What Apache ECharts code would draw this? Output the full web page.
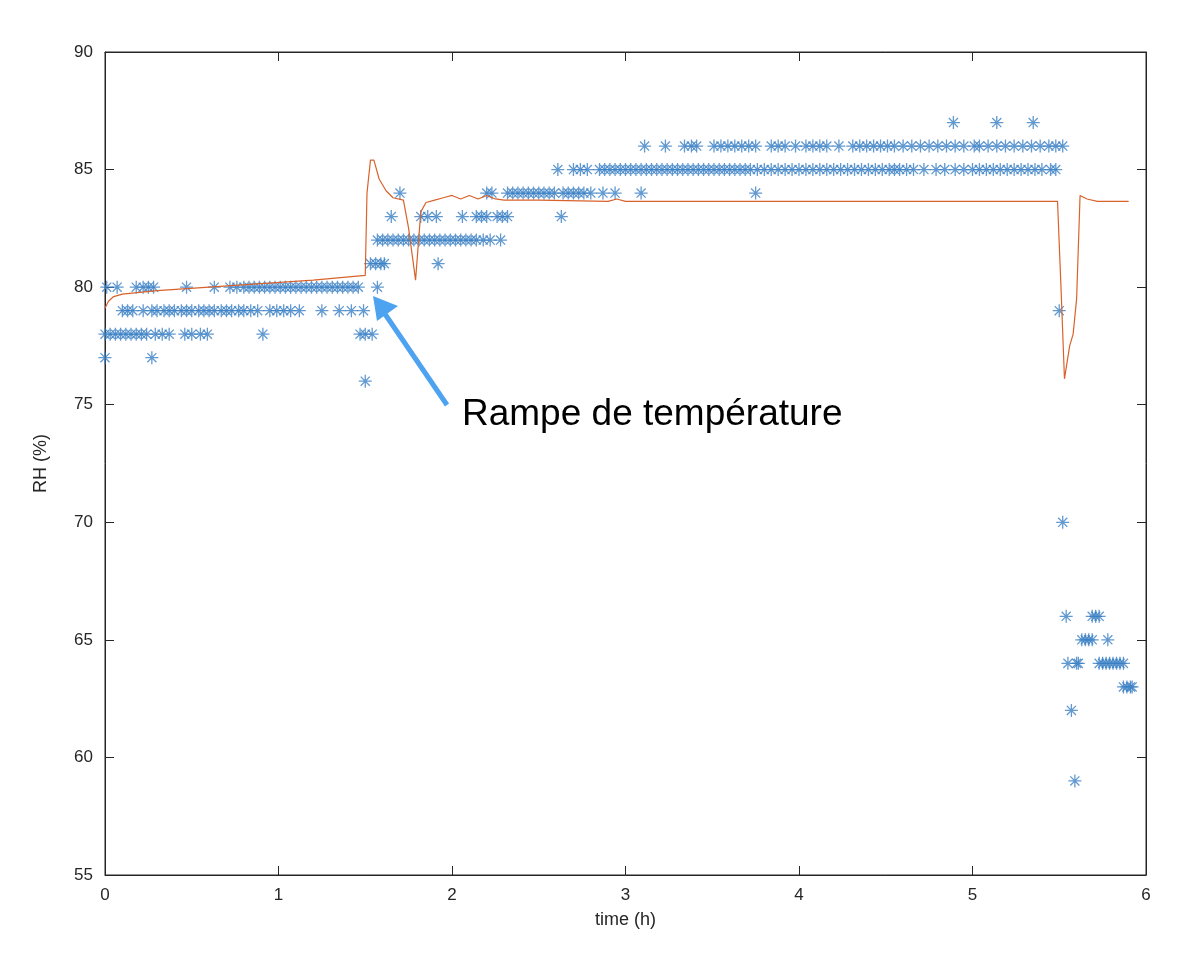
<!DOCTYPE html>
<html style="height: 100%">
<head>
<meta charset="utf-8">
<script src="https://cdn.jsdelivr.net/npm/echarts@6/dist/echarts.min.js"></script>
</head>
<body style="height: 100%; margin: 0; background: #fff">
<div id="main" style="width: 1200px; height: 962px"></div>
<script type="text/javascript">
// measured RH: sample times (h) for each RH level (%)
var rh59 = [5.59];
var rh62 = [5.57];
var rh63 = [5.87, 5.89, 5.91, 5.92];
var rh64 = [5.55, 5.60, 5.61, 5.73, 5.75, 5.77, 5.79, 5.81, 5.83, 5.85, 5.87];
var rh65 = [5.63, 5.65, 5.67, 5.69, 5.78];
var rh66 = [5.54, 5.69, 5.71, 5.73];
var rh70 = [5.52];
var rh76 = [1.50];
var rh77 = [0.0, 0.27];
var rh78 = [0.0, 0.03, 0.06, 0.09, 0.12, 0.15, 0.18, 0.21, 0.24, 0.29, 0.33, 0.37,
            0.46, 0.50, 0.55, 0.59, 0.91, 1.47, 1.50, 1.54];
var rh79 = [0.10, 0.13, 0.16, 0.22, 0.27, 0.30, 0.34, 0.37, 0.40, 0.44, 0.47, 0.50,
            0.54, 0.57, 0.60, 0.63, 0.67, 0.70, 0.73, 0.77, 0.80, 0.84, 0.88,
            0.95, 0.99, 1.03, 1.07, 1.12, 1.25, 1.35, 1.42, 1.49, 5.50];
var rh80 = [0.01, 0.07, 0.18, 0.22, 0.25, 0.28, 0.47, 0.63, 0.72, 0.76, 0.80, 0.83,
            0.86, 0.89, 0.92, 0.95, 0.98, 1.01, 1.04, 1.07, 1.10, 1.13, 1.16, 1.19,
            1.22, 1.25, 1.28, 1.31, 1.34, 1.37, 1.40, 1.43, 1.46, 1.57];
var rh81 = [1.53, 1.56, 1.59, 1.61, 1.92];
var rh82 = [1.57, 1.60, 1.63, 1.66, 1.69, 1.72, 1.75, 1.78, 1.81, 1.84, 1.87, 1.90,
            1.93, 1.96, 1.99, 2.02, 2.05, 2.08, 2.11, 2.14, 2.18, 2.22, 2.28];
var rh83 = [1.65, 1.82, 1.86, 1.91, 2.06, 2.14, 2.17, 2.20, 2.26, 2.29, 2.32, 2.63];
var rh84 = [1.70, 2.20, 2.23, 2.32, 2.35, 2.38, 2.41, 2.44, 2.47, 2.50, 2.53, 2.56,
            2.59, 2.64, 2.67, 2.70, 2.73, 2.76, 2.80, 2.87, 2.94, 3.09, 3.75];
var rh85 = [2.61, 2.70, 2.74, 2.78, 2.85, 2.88, 2.91, 2.94, 2.97, 3.00, 3.03, 3.06,
            3.09, 3.12, 3.15, 3.18, 3.21, 3.24, 3.27, 3.30, 3.33, 3.36, 3.39, 3.42,
            3.45, 3.48, 3.51, 3.54, 3.57, 3.60, 3.63, 3.66, 3.69, 3.72, 3.76, 3.80,
            3.84, 3.88, 3.92, 3.96, 4.00, 4.04, 4.08, 4.12, 4.16, 4.20, 4.24, 4.28,
            4.32, 4.36, 4.40, 4.44, 4.48, 4.52, 4.55, 4.58, 4.62, 4.66, 4.72, 4.79,
            4.84, 4.90, 4.95, 5.00, 5.04, 5.08, 5.12, 5.16, 5.20, 5.24, 5.28, 5.32,
            5.36, 5.40, 5.45, 5.48];
var rh86 = [3.11, 3.23, 3.34, 3.38, 3.41, 3.51, 3.55, 3.59, 3.63, 3.67, 3.71, 3.75,
            3.84, 3.88, 3.92, 3.98, 4.04, 4.08, 4.12, 4.16, 4.23, 4.31, 4.35, 4.39,
            4.43, 4.47, 4.51, 4.55, 4.60, 4.65, 4.70, 4.75, 4.80, 4.85, 4.90, 4.95,
            5.01, 5.04, 5.09, 5.14, 5.19, 5.24, 5.29, 5.34, 5.39, 5.44, 5.48, 5.52];
var rh87 = [4.89, 5.14, 5.35];

// simulated RH: [time, RH]
var simTime = [0.0, 0.02, 0.05, 0.1, 0.3, 0.6, 0.9, 1.2, 1.5, 1.51, 1.53, 1.55, 1.58,
               1.62, 1.66, 1.72, 1.75, 1.79, 1.82, 1.85, 1.9, 1.95, 2.0, 2.05, 2.1,
               2.15, 2.2, 2.25, 2.3, 2.5, 2.9, 2.95, 3.0, 3.05, 3.5, 4.5, 5.49, 5.51,
               5.53, 5.56, 5.58, 5.6, 5.62, 5.66, 5.72, 5.9];
var simRH = [79.1, 79.4, 79.6, 79.7, 79.85, 80.0, 80.15, 80.3, 80.5, 84.0, 85.4, 85.4, 84.6,
             84.1, 83.8, 83.7, 82.5, 80.3, 83.2, 83.6, 83.7, 83.8, 83.9, 83.75, 83.9,
             83.75, 83.9, 83.75, 83.7, 83.7, 83.65, 83.75, 83.65, 83.65, 83.65, 83.65, 83.65, 80.0,
             76.1, 77.5, 78.0, 79.5, 83.9, 83.75, 83.65, 83.65];

var levels = {59: rh59, 62: rh62, 63: rh63, 64: rh64, 65: rh65, 66: rh66, 70: rh70, 76: rh76,
              77: rh77, 78: rh78, 79: rh79, 80: rh80, 81: rh81, 82: rh82, 83: rh83,
              84: rh84, 85: rh85, 86: rh86, 87: rh87};
var measured = [];
Object.keys(levels).forEach(function (k) {
    levels[k].forEach(function (t) { measured.push([t, Number(k)]); });
});
var sim = simTime.map(function (t, i) { return [t, simRH[i]]; });

var chart = echarts.init(document.getElementById('main'));
var axisCol = '#262626';
var font = 'Helvetica, Arial, sans-serif';
function mkAxis(extra) {
    var a = {
        type: 'value',
        axisLine: {show: true, onZero: false, lineStyle: {color: axisCol}},
        axisTick: {show: true, inside: true, length: 9, lineStyle: {color: axisCol}},
        axisLabel: {color: axisCol, fontSize: 17, fontFamily: font, margin: 12},
        splitLine: {show: false}
    };
    for (var k in extra) a[k] = extra[k];
    return a;
}
chart.setOption({
    animation: false,
    grid: {left: 105, right: 54, top: 52, bottom: 87, show: true, borderColor: axisCol, borderWidth: 1},
    xAxis: [
        mkAxis({min: 0, max: 6, interval: 1, position: 'bottom', name: 'time (h)', nameLocation: 'middle',
                nameGap: 36, nameTextStyle: {color: axisCol, fontSize: 18, fontFamily: font}}),
        mkAxis({min: 0, max: 6, interval: 1, position: 'top', axisLabel: {show: false}})
    ],
    yAxis: [
        mkAxis({min: 55, max: 90, interval: 5, position: 'left', name: 'RH (%)', nameLocation: 'middle',
                nameGap: 55, nameTextStyle: {color: axisCol, fontSize: 18, fontFamily: font}}),
        mkAxis({min: 55, max: 90, interval: 5, position: 'right', axisLabel: {show: false}})
    ],
    series: [{
        type: 'scatter', data: measured, symbolSize: 13,
        symbol: 'path://M5,0 L5,10 M0,5 L10,5 M1.5,1.5 L8.5,8.5 M8.5,1.5 L1.5,8.5',
        itemStyle: {color: 'none', borderColor: '#3a7fc4', borderWidth: 1.3}
    }, {
        type: 'line', data: sim, showSymbol: false, z: 3,
        lineStyle: {color: '#d9622b', width: 1.2}
    }],
    graphic: [{
        type: 'line', shape: {x1: 447, y1: 405, x2: 385, y2: 314},
        style: {stroke: '#4da3f0', lineWidth: 5}
    }, {
        type: 'polygon', shape: {points: [[373, 296], [398, 306], [377, 321]]},
        style: {fill: '#4da3f0'}
    }, {
        type: 'text', left: 462, top: 396,
        style: {text: 'Rampe de température', fontSize: 37, fill: '#000', fontFamily: font}
    }]
});
</script>
</body>
</html>
